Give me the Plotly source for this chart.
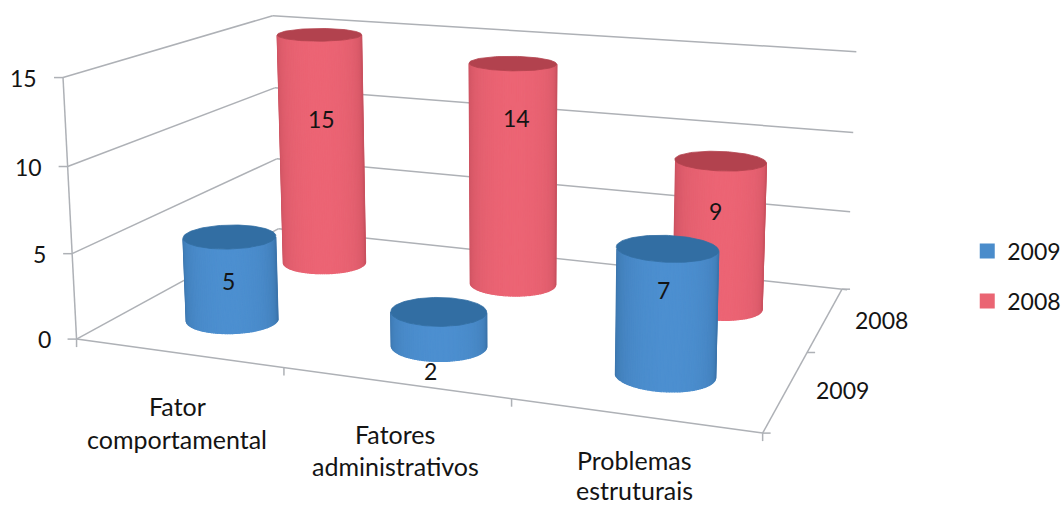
import numpy as np
import plotly.graph_objects as go

categories = [["Fator", "comportamental"], ["Fatores", "administrativos"], ["Problemas", "estruturais"]]
series_names = ["2009", "2008"]
values_2009 = [5, 2, 7]
values_2008 = [15, 14, 9]
z_ticks = [0, 5, 10, 15]
Z_MAX = 15

W, H = 1062, 507

# Perspective of the chart box: (category pos, series pos, value fraction) -> page pixel
box_refs = [
    ((0, 0, 0), (77, 338)), ((0, 0, 1/3), (72, 254)), ((0, 0, 2/3), (67, 167)), ((0, 0, 1), (63, 78)),
    ((0, 1, 0), (278, 229)), ((0, 1, 1/3), (277, 159)), ((0, 1, 2/3), (275, 88)), ((0, 1, 1), (273, 15)),
    ((1, 1, 0), (842, 290)), ((1, 1, 1/3), (845, 211)), ((1, 1, 2/3), (848, 131)), ((1, 1, 1), (851, 52)),
    ((1, 0, 0), (763, 433)),
]

def solve_projection(refs):
    rows = []
    for (X, Y, Z), (u, v) in refs:
        u, v = u/1000, v/1000
        rows.append([X, Y, Z, 1, 0, 0, 0, 0, -u*X, -u*Y, -u*Z, -u])
        rows.append([0, 0, 0, 0, X, Y, Z, 1, -v*X, -v*Y, -v*Z, -v])
    _, _, vt = np.linalg.svd(np.array(rows, float))
    return vt[-1].reshape(3, 4)

PROJ = solve_projection(box_refs)

def to_page(u, v, w):
    """Map box coordinates (scalars or arrays) to page pixels."""
    u, v, w = np.broadcast_arrays(u, v, w)
    pts = np.stack([u, v, w, np.ones_like(u, dtype=float)])
    a = PROJ @ pts.reshape(4, -1)
    return (a[0]/a[2]*1000).reshape(u.shape), (a[1]/a[2]*1000).reshape(u.shape)

fig = go.Figure()
GREY = "#aeb1b6"

def seg(a, b, width=1.5):
    x, y = to_page(np.array([a[0], b[0]], float), np.array([a[1], b[1]], float), np.array([a[2], b[2]], float))
    fig.add_scatter(x=x, y=y, mode="lines", line=dict(color=GREY, width=width), hoverinfo="skip", showlegend=False)

def tick(a, dx, dy, width=1.5):
    x, y = to_page(float(a[0]), float(a[1]), float(a[2]))
    fig.add_scatter(x=[float(x), float(x)+dx], y=[float(y), float(y)+dy], mode="lines",
                    line=dict(color=GREY, width=width), hoverinfo="skip", showlegend=False)

# Walls: horizontal rules on the left and back planes
for t in z_ticks:
    w = t/Z_MAX
    seg((0, 0, w), (0, 1, w))
    seg((0, 1, w), (1.008, 1, w))
    tick((0, 0, w), -9, 0)

# Box edges and ticks
seg((0, 0, 0), (0, 0, 1))
seg((0, 0, 0), (1, 0, 0))
seg((1, 0, 0), (1, 1, 0))
for k in range(4):
    tick((k/3, 0, 0), 0, 8)
for k in range(3):
    tick((1, k/2, 0), 8, 0)

def mix(c0, c1, t):
    return "rgb(%d,%d,%d)" % tuple(round(a + (b-a)*t) for a, b in zip(c0, c1))

palette = {
    "2009": dict(edge=(56, 112, 165), mid=(76, 143, 208), cap=(50, 110, 163)),
    "2008": dict(edge=(196, 78, 92), mid=(236, 100, 116), cap=(178, 66, 78)),
}

# Cylinder radius relative to the box sides
RU, RV = 0.069, 0.102
ANG = np.linspace(0, 2*np.pi, 121)

def add_cylinder(i, j, value, name):
    uc, vc = (i + .5)/3, (j + .5)/2
    w = value/Z_MAX
    u = uc + RU*np.cos(ANG)
    v = vc + RV*np.sin(ANG)
    xb, yb = to_page(u, v, 0.0)
    xt, yt = to_page(u, v, w)
    # Keep the strips that face the viewer: base outline running left to right along the front
    visible = [k for k in range(len(ANG)-1)
               if (xb[k+1]-xb[k]) > 0 and (yb[k]+yb[k+1]) / 2 > np.mean(yb)]
    pal = palette[name]
    n = len(visible)
    ordered = sorted(visible, key=lambda k: xb[k])
    for rank, k in enumerate(ordered):
        s = np.sin(np.pi*(rank + .5)/n)**0.55
        col = mix(pal["edge"], pal["mid"], s)
        fig.add_scatter(x=[xb[k], xb[k+1], xt[k+1], xt[k], xb[k]],
                        y=[yb[k], yb[k+1], yt[k+1], yt[k], yb[k]],
                        mode="lines", fill="toself", fillcolor=col, line=dict(color=col, width=1.2),
                        hoverinfo="skip", showlegend=False)
    cap = mix(pal["cap"], pal["cap"], 0)
    fig.add_scatter(x=xt, y=yt, mode="lines", fill="toself", fillcolor=cap, line=dict(color=cap, width=0.8),
                    hoverinfo="skip", showlegend=False)

for i in range(3):
    add_cylinder(i, 1, values_2008[i], "2008")
for i in range(3):
    add_cylinder(i, 0, values_2009[i], "2009")

for name, color in zip(series_names, ["#4a8ccb", "#ea6573"]):
    fig.add_scatter(x=[None], y=[None], mode="markers", name=name, legendgroup=name,
                    marker=dict(symbol="square", size=15, color=color))

INK = "#141414"
text_font = dict(family="Lato", size=25, color=INK)
digit_font = dict(family="Lato", size=23, color=INK)

value_label_px = {"2009": [(228, 281), (430, 371), (663, 290)], "2008": [(321, 119), (516, 118), (715, 211)]}
category_label_px = [[(177, 406), (177, 439)], [(395, 434), (395, 466)], [(634, 460), (634, 490)]]
z_label_px = [(53, 339), (48, 254), (44, 167), (39, 78)]
series_label_px = {"2009": (814, 390), "2008": (853, 320)}

notes = []
for t, (x, y) in zip(z_ticks, z_label_px):
    notes.append(dict(x=x, y=y, text=str(t), xanchor="right", font=digit_font))
for lines, places in zip(categories, category_label_px):
    for line, (x, y) in zip(lines, places):
        notes.append(dict(x=x, y=y, text=line, font=text_font))
for n in series_names:
    x, y = series_label_px[n]
    notes.append(dict(x=x, y=y, text=n, xanchor="left", font=digit_font))
for n, vals in zip(series_names, [values_2009, values_2008]):
    for v, (x, y) in zip(vals, value_label_px[n]):
        notes.append(dict(x=x, y=y, text=str(v), font=digit_font))
for a in notes:
    a.update(xref="x", yref="y", showarrow=False)

fig.update_layout(
    width=W, height=H, margin=dict(l=0, r=0, t=0, b=0, autoexpand=False), paper_bgcolor="white", plot_bgcolor="white",
    showlegend=True, annotations=notes,
    legend=dict(x=1.004, xanchor="right", y=.547, yanchor="top", tracegroupgap=17, font=digit_font,
                bgcolor="rgba(0,0,0,0)"),
    xaxis=dict(visible=False, range=[0, W], fixedrange=True),
    yaxis=dict(visible=False, range=[H, 0], fixedrange=True),
)
fig.write_html("out.html")
